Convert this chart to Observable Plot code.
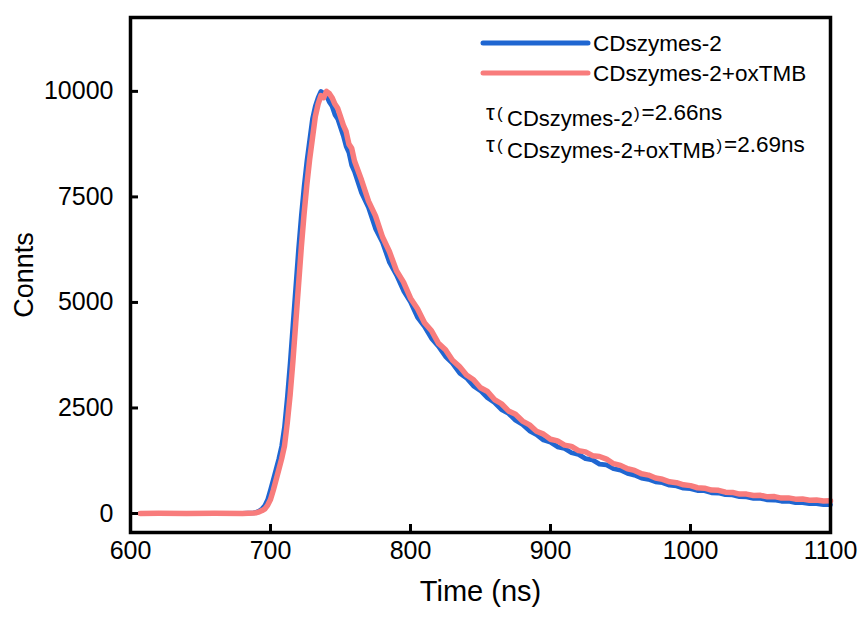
<!DOCTYPE html>
<html>
<head>
<meta charset="utf-8">
<script src="https://cdn.jsdelivr.net/npm/d3@7"></script>
<script src="https://cdn.jsdelivr.net/npm/@observablehq/plot@0.6"></script>
<style>
  html, body { margin: 0; padding: 0; background: #fff; }
  svg { display: block; }
</style>
</head>
<body>
<div id="chart"></div>
<script>
// ---- data ----
const times = [607,620,640,660,680,688,
  690,692,694,696,698,700,702,704,706,708,710,712,714,716,718,720,722,724,726,728,730,
  732,734,736,738,740,742,744,746,748,750,752,754,756,758,760,
  765,770,775,780,785,790,795,800,805,810,815,820,825,830,835,840,845,850,855,860,865,870,
  875,880,885,890,895,900,905,910,915,920,925,930,935,940,945,950,955,960,965,970,975,980,
  985,990,995,1000,1005,1010,1015,1020,1025,1030,1035,1040,1045,1050,1055,1060,1065,1070,
  1075,1080,1085,1090,1095,1100];

const blueCounts = [0,0,5,0,5,15,
  30,60,110,190,330,560,800,1050,1300,1600,2050,2750,3550,4450,5350,6250,7050,7750,8350,8850,9350,
  9650,9850,10000,9950,9900,9750,9650,9450,9350,9150,8950,8700,8550,8250,8100,
  7600,7250,6750,6420,5950,5650,5280,5010,4650,4430,4150,3960,3720,3560,3330,3210,3020,2910,2740,2630,2460,2370,
  2210,2110,1960,1870,1740,1690,1580,1540,1440,1400,1300,1270,1170,1150,1060,1030,950,910,840,810,750,730,
  670,655,600,590,545,540,490,485,445,440,400,395,360,360,325,320,290,290,
  260,260,235,235,210,210];

const redCounts = [0,5,0,5,0,10,
  20,40,70,110,200,330,550,800,1050,1300,1600,2150,2800,3600,4500,5400,6300,7100,7800,8400,8900,
  9400,9700,9900,9850,10000,9950,9850,9700,9600,9400,9200,9050,8750,8650,8350,
  7900,7400,7050,6550,6200,5750,5480,5100,4850,4520,4330,4030,3880,3630,3480,3280,3170,2980,2890,2700,2600,2430,
  2350,2190,2100,1950,1880,1760,1720,1620,1590,1490,1460,1370,1350,1290,1180,1140,1060,1020,940,910,840,810,
  750,730,680,660,610,600,555,550,505,500,460,460,425,430,395,400,365,370,
  340,345,315,320,295,300];

const seriesNames = ["CDszymes-2", "CDszymes-2+oxTMB"];
const lifetimes = ["2.66ns", "2.69ns"];
const seriesColors = ["#1f66d1", "#f87c7c"];
const xTicks = [600, 700, 800, 900, 1000, 1100];
const yTicks = [0, 2500, 5000, 7500, 10000];
const xLabel = "Time (ns)";
const yLabel = "Connts";

// ---- build tables ----
const blueData = times.map((t, i) => ({time: t, counts: blueCounts[i]}));
const redData = times.map((t, i) => ({time: t, counts: redCounts[i]}));

const font = "'Liberation Sans', Arial, Helvetica, sans-serif";
const xMin = 600, xMax = 1100;
const yMin = -450, yMax = 11750;
const tickLenX = 8 * (xMax - xMin) / 700;   // 8px in data units
const tickLenY = 8 * (yMax - yMin) / 515;

const chart = Plot.plot({
  width: 865,
  height: 617,
  marginLeft: 130,
  marginRight: 35,
  marginTop: 17,
  marginBottom: 85,
  style: {fontFamily: font, background: "#fff", color: "#000", overflow: "visible"},
  x: {domain: [xMin, xMax]},
  y: {domain: [yMin, yMax]},
  marks: [
    Plot.line(blueData, {x: "time", y: "counts", stroke: seriesColors[0], strokeWidth: 4.8, strokeLinejoin: "round"}),
    Plot.line(redData, {x: "time", y: "counts", stroke: seriesColors[1], strokeWidth: 5.5, strokeLinejoin: "round"}),
    // inward tick marks
    Plot.ruleY(yTicks, {y: d => d, x1: xMin, x2: xMin + tickLenX, stroke: "#000", strokeWidth: 3}),
    Plot.ruleX(xTicks, {x: d => d, y1: yMin, y2: yMin + tickLenY, stroke: "#000", strokeWidth: 3}),
    Plot.axisX(xTicks, {tickSize: 0, tickPadding: 9, fontSize: 25, label: null, tickFormat: d => String(d)}),
    Plot.axisY(yTicks, {tickSize: 0, tickPadding: 17, fontSize: 25, label: null, tickFormat: d => String(d)}),
    Plot.text([xLabel], {frameAnchor: "bottom", dy: 68, fontSize: 29, fill: "#000"}),
    Plot.text([yLabel], {frameAnchor: "left", textAnchor: "middle", dx: -106, rotate: -90, fontSize: 27, fill: "#000"}),
    Plot.frame({stroke: "#000", strokeWidth: 3.5})
  ]
});

document.getElementById("chart").appendChild(chart);

// ---- legend and lifetime annotations ----
const svg = d3.select(chart);
const g = svg.append("g")
  .attr("font-family", font)
  .attr("fill", "#000")
  .attr("text-anchor", "start")
  .style("text-anchor", "start");
const legendRows = [43, 73];
seriesNames.forEach((name, i) => {
  g.append("line")
    .attr("x1", 483).attr("x2", 588)
    .attr("y1", legendRows[i]).attr("y2", legendRows[i])
    .attr("stroke", seriesColors[i]).attr("stroke-width", 5).attr("stroke-linecap", "round");
  g.append("text")
    .attr("x", 593).attr("y", legendRows[i] + 8)
    .attr("font-size", 22.5)
    .text(name);
});

const tauRows = [120, 152];
seriesNames.forEach((name, i) => {
  const y0 = tauRows[i];
  const t = g.append("text").attr("x", 486).attr("y", y0).attr("font-size", 21);
  t.append("tspan").attr("x", 486).attr("y", y0).attr("font-size", 22).text("τ");
  t.append("tspan").attr("x", 497).attr("y", y0 - 1).attr("font-size", 17).text("(");
  t.append("tspan").attr("x", 507).attr("y", y0 + 6).attr("font-size", 22).text(name);
  t.append("tspan").attr("dx", 1).attr("y", y0 - 1).attr("font-size", 17).text(")");
  t.append("tspan").attr("dx", 2).attr("y", y0).attr("font-size", 22.5).text("=" + lifetimes[i]);
});
</script>
</body>
</html>
